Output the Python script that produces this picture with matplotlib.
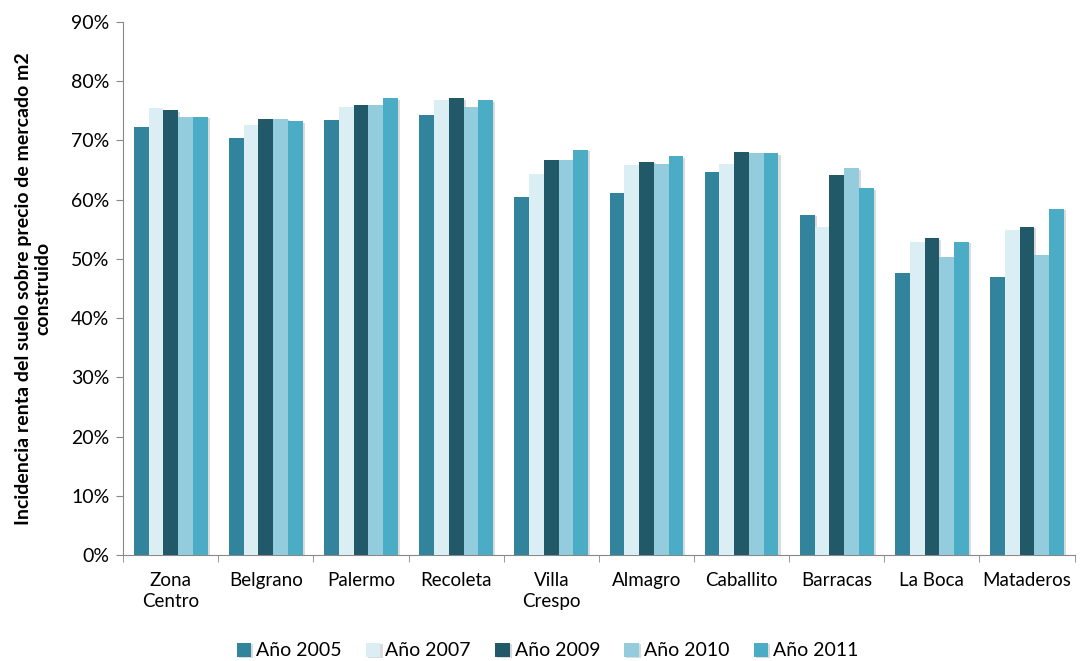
import numpy as np
import matplotlib.pyplot as plt
import matplotlib.patheffects as pe
from matplotlib.ticker import PercentFormatter, FixedLocator

plt.rcParams['font.family'] = ['Lato', 'DejaVu Sans']

barrios = ["Zona\nCentro", "Belgrano", "Palermo", "Recoleta", "Villa\nCrespo",
           "Almagro", "Caballito", "Barracas", "La Boca", "Mataderos"]
anios = ["Año 2005", "Año 2007", "Año 2009", "Año 2010", "Año 2011"]

# incidencia (%) por barrio, una lista por año
v2005 = [72.3, 70.4, 73.5, 74.3, 60.5, 61.1, 64.7, 57.4, 47.6, 47.0]
v2007 = [75.4, 72.6, 75.7, 76.8, 64.4, 65.9, 66.1, 55.4, 52.9, 54.9]
v2009 = [75.1, 73.7, 76.0, 77.1, 66.7, 66.4, 68.1, 64.2, 53.5, 55.4]
v2010 = [74.0, 73.7, 76.0, 75.7, 66.7, 66.1, 67.8, 65.3, 50.4, 50.7]
v2011 = [74.0, 73.2, 77.1, 76.8, 68.4, 67.3, 67.8, 61.9, 52.9, 58.5]

colores = ["#31849B", "#DBEEF4", "#215968", "#93CDDD", "#4BACC6"]

fig = plt.figure(figsize=(10.8, 6.61), dpi=100)
ax = fig.add_axes([0.114, 0.1604, 0.881, 0.8063])

x = np.arange(len(barrios))
w = 0.155
sombra = [pe.SimplePatchShadow(offset=(1.5, -1), shadow_rgbFace="#888888", alpha=0.3), pe.Normal()]
for i, (vals, c) in enumerate(zip([v2005, v2007, v2009, v2010, v2011], colores)):
    bars = ax.bar(x + (i - 2) * w, vals, width=w, color=c, label=anios[i], zorder=3)
    for b in bars:
        b.set_path_effects(sombra)

ax.set_xlim(-0.5, len(barrios) - 0.5)
ax.set_ylim(0, 90)
ax.yaxis.set_major_locator(FixedLocator(np.arange(0, 91, 10)))
ax.yaxis.set_major_formatter(PercentFormatter(decimals=0))

ax.set_xticks(x)
ax.set_xticklabels(barrios, fontsize=13.5, linespacing=1.3)
ax.set_xticks(np.arange(-0.5, len(barrios)), minor=True)
ax.tick_params(axis='x', which='major', length=0, pad=12)
ax.tick_params(axis='x', which='minor', length=5, color="#888888")
ax.tick_params(axis='y', length=5, color="#888888", labelsize=14, pad=5)

for s in ["top", "right"]:
    ax.spines[s].set_visible(False)
for s in ["left", "bottom"]:
    ax.spines[s].set_color("#888888")

ax.set_ylabel("Incidencia renta del suelo sobre precio de mercado m2\nconstruido",
              fontsize=14, fontweight="bold", labelpad=14, linespacing=1.15)

ax.legend(loc="center", bbox_to_anchor=(0.446, -0.18), ncol=5, frameon=False,
          fontsize=14, handlelength=0.75, handleheight=0.75, handletextpad=0.25,
          columnspacing=1.25)

fig.savefig("out.png", dpi=100)
